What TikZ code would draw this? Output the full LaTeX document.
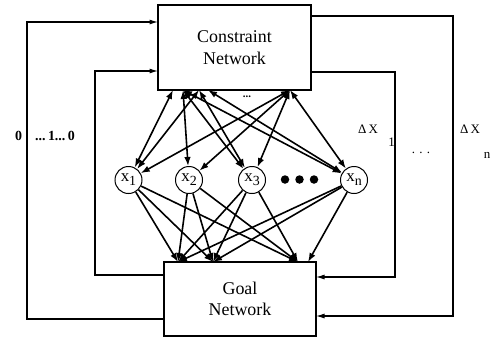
\documentclass[tikz,border=0pt]{standalone}
\usepackage{fontspec}
\setmainfont{Liberation Serif}
\usetikzlibrary{arrows.meta}
\begin{document}
\begin{tikzpicture}[x=1bp,y=-1bp,
  netbox/.style={draw,line width=1.1bp,align=center,font=\fontsize{18}{21.5}\selectfont,inner sep=0pt},
  var/.style={draw,circle,line width=1bp,minimum size=27bp,inner sep=0pt,font=\fontsize{17}{17}\selectfont},
  link/.style={line width=1.6bp,{Latex[length=9bp,width=6.5bp]}-{Latex[length=9bp,width=6.5bp]}},
  feed/.style={line width=1.6bp,-{Latex[length=9bp,width=6.5bp]}},
  loop/.style={line width=1.1bp,-{Latex[length=8.5bp,width=5bp]}},
  lbl/.style={font=\fontsize{13}{13}\selectfont,inner sep=0pt},
  bitlbl/.style={font=\fontsize{14}{14}\selectfont\bfseries,inner sep=0pt}]
\useasboundingbox (0,0) rectangle (499,340);

% the two networks
\node[netbox,minimum width=153bp,minimum height=85bp] (cn) at (234.5,47.5) {Constraint\\Network};
\node[netbox,minimum width=152bp,minimum height=74bp] (gn) at (240,299) {Goal\\Network};

% variable units
\newcommand{\xv}[1]{x\raisebox{-4bp}{\fontsize{14}{14}\selectfont #1}}
\node[var] (x1) at (128.5,180) {\xv{1}};
\node[var] (x2) at (189,180) {\xv{2}};
\node[var] (x3) at (252,180) {\xv{3}};
\node[var] (xn) at (354,180) {\xv{n}};
\foreach \k/\px in {1/285,2/299.5,3/314}
  \node[circle,fill,inner sep=0pt,minimum size=8.5bp] (dot\k) at (\px,179.5) {};

% ports on the constraint network
\coordinate (cA) at (173,90);
\coordinate (cB) at (183,90);
\coordinate (cC) at (199,90);
\coordinate (cD) at (208,90);
\coordinate (cE) at (290,90);
\node[lbl,font=\fontsize{11}{11}\selectfont\bfseries] (cdots) at (247,97) {...};

% ports on the goal network
\coordinate (gP) at (178,262);
\coordinate (gQ) at (213,262);
\coordinate (gR) at (298,262);
\coordinate (gS) at (308,262);

% constraint network <-> variables
\draw[link] (cA) -- (x1);
\draw[link] (cC) -- (x1);
\draw[link] (cE) -- (x1);
\draw[link] (cB) -- (x2);
\draw[link] (cE) -- (x2);
\draw[link] (cB) -- (x3);
\draw[link] (cC) -- (x3);
\draw[link] (cE) -- (x3);
\draw[link] (cB) -- (xn);
\draw[link] (cD) -- (xn);
\draw[link] (cE) -- (xn);

% variables -> goal network
\foreach \v in {x1,x2,x3} {
  \draw[feed] (\v) -- (gP);
  \draw[feed] (\v) -- (gQ);
  \draw[feed] (\v) -- (gR);
}
\draw[feed] (xn) -- (gP);
\draw[feed] (xn) -- (gQ);
\draw[feed] (xn) -- (gS);

% feedback loops
\coordinate (gl1) at (164,319);
\coordinate (gl2) at (164,275);
\coordinate (cl1) at (158,22);
\coordinate (cl2) at (158,71);
\draw[loop] (gl1) -| (27,22) -- (cl1);
\draw[loop] (gl2) -| (95,71) -- (cl2);
\coordinate (cr1) at (311,16);
\coordinate (cr2) at (311,72);
\coordinate (gr1) at (316,316);
\coordinate (gr2) at (316,277);
\draw[loop] (cr2) -| (395,277) -- (gr2);
\draw[loop] (cr1) -| (453,316) -- (gr1);

% loop labels
\node[bitlbl] (z0) at (18.5,136) {0};
\node[bitlbl] (zs) at (55,136) {...\,1...\,0};
\node[lbl] (d1) at (368,129) {Δ\,X};
\node[lbl] (d1s) at (391.5,142) {1};
\node[lbl] (mid) at (421,153) {.\,\,.\,\,.};
\node[lbl] (dn) at (470,129) {Δ\,X};
\node[lbl] (dns) at (487,155) {n};
\end{tikzpicture}
\end{document}
